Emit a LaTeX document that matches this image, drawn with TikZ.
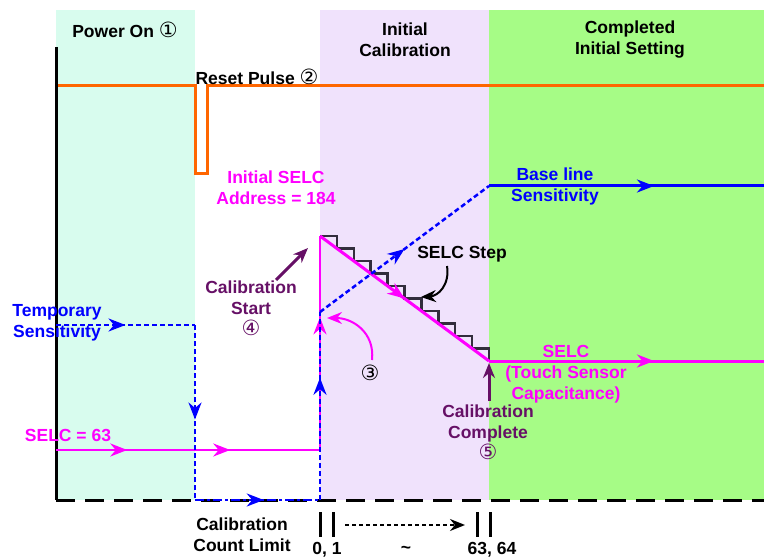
\documentclass[tikz,border=0pt]{standalone}
\usepackage{fontspec}
\setmainfont{Liberation Sans}
\newfontfamily\circfont{DejaVu Sans}
\usetikzlibrary{arrows.meta,decorations.markings}

\definecolor{poweron}{RGB}{216,252,238}
\definecolor{calib}{RGB}{240,226,252}
\definecolor{done}{RGB}{166,252,134}
\definecolor{pulse}{RGB}{255,102,0}
\definecolor{selc}{RGB}{255,0,255}
\definecolor{sens}{RGB}{0,0,255}
\definecolor{evt}{RGB}{102,16,102}
\definecolor{stair}{RGB}{50,45,60}

\newcommand{\cnum}[1]{{\circfont\mdseries\fontsize{21}{21}\selectfont #1}}

\begin{document}
\begin{tikzpicture}[x=1pt,y=-1pt,
  lbl/.style={font=\bfseries\fontsize{17.5}{21}\selectfont,align=center,inner sep=0pt},
  tip/.style={-{Stealth[length=15pt,width=12pt]}},
  midarr/.style={postaction={decorate,decoration={markings,
      mark=at position #1 with {\arrow{Stealth[length=17pt,width=13pt]}}}}},
  sensdot/.style={sens,line width=2.5pt,dash pattern=on 5pt off 3pt}]
\useasboundingbox (0,0) rectangle (764,559);

% phases
\fill[poweron] (56,10) rectangle (195,500);
\fill[calib] (320,10) rectangle (489,500);
\fill[done] (489,10) rectangle (764,500);

\coordinate (O) at (56,500);
\coordinate (Top) at (56,47);
\coordinate (End) at (764,500);

% reset pulse
\coordinate (R0) at (56,86);
\coordinate (R1) at (195,86);
\coordinate (R2) at (195,174);
\coordinate (R3) at (207,174);
\coordinate (R4) at (207,86);
\coordinate (R5) at (764,86);
\draw[pulse,line width=3pt] (R0) -- (R1) -- (R2) -- (R3) -- (R4) -- (R5);

% axes
\draw[line width=3pt,dash pattern=on 19pt off 10pt] (O) -- (End);
\draw[line width=3pt] (Top) -- (O);

% SELC steps
\coordinate (S0) at (56,450);
\coordinate (S1) at (320,450);
\coordinate (S2) at (320,236);
\coordinate (S3) at (489,361);
\coordinate (S4) at (764,361);
\draw[stair,line width=2.5pt] (S2) \foreach \i in {1,...,10} { -| ({320+16.9*\i},{236+12.5*\i}) };

\draw[selc,line width=2.5pt,midarr=0.27,midarr=0.66] (S0) -- (S1);
\draw[selc,line width=2.5pt,midarr=0.62] (S1) -- (S2);
\draw[selc,line width=3pt,midarr=0.5] (S2) -- (S3);
\draw[selc,line width=3pt,midarr=0.6] (S3) -- (S4);

% sensitivity
\coordinate (T0) at (56,325);
\coordinate (T1) at (195,325);
\coordinate (T2) at (195,500);
\coordinate (T3) at (320,500);
\coordinate (T4) at (320,312);
\coordinate (T5) at (489,186);
\coordinate (T6) at (764,186);
\draw[sensdot,midarr=0.5] (T0) -- (T1);
\draw[sensdot,midarr=0.54] (T1) -- (T2);
\draw[sens,line width=2.5pt,dash pattern=on 9pt off 3pt on 3pt off 3pt,midarr=0.55] (T2) -- (T3);
\draw[sensdot,midarr=0.65] (T3) -- (T4);
\draw[sensdot,midarr=0.5] (T4) -- (T5);
\draw[sens,line width=3pt,midarr=0.6] (T5) -- (T6);

% labels
\node[lbl] (pwr) at (125,30) {Power On \cnum{①}};
\node[lbl] (rst) at (257,77) {Reset Pulse \cnum{②}};
\node[lbl] (cal) at (405,40) {Initial\\Calibration};
\node[lbl] (cmp) at (630,40) {Completed\\Initial Setting};
\node[lbl,selc] (init) at (276,188) {Initial SELC\\Address = 184};
\node[lbl,evt] (start) at (251,308) {Calibration\\Start\\\cnum{④}};
\node[lbl,sens] (base) at (555,186) {Base line\\Sensitivity};
\node[lbl] (steplbl) at (462,254) {SELC Step};
\node[lbl] (c3) at (370,373) {\cnum{③}};
\node[lbl,sens] (tmp) at (57,323) {Temporary\\Sensitivity};
\node[lbl,selc] (s63) at (68,435) {SELC = 63};
\node[lbl,selc] (touch) at (566,374) {SELC\\(Touch Sensor\\Capacitance)};
\node[lbl,evt] (cdone) at (488,432) {Calibration\\Complete\\\cnum{⑤}};
\node[lbl] (lim) at (242,535) {Calibration\\Count Limit};
\node[lbl] (n01) at (327,550) {0, 1};
\node[lbl] (til) at (406,550) {\textasciitilde};
\node[lbl] (n6364) at (492,550) {63, 64};

% event arrows
\coordinate (startA) at (276,280);
\coordinate (startB) at (308,248);
\draw[evt,line width=3pt,tip] (startA) -- (startB);
\coordinate (doneA) at (489,401);
\coordinate (doneB) at (489,363);
\draw[evt,line width=3pt,tip] (doneA) -- (doneB);
\coordinate (stepA) at (447,266);
\coordinate (stepB) at (421,297);
\draw[line width=2pt,tip] (stepA) .. controls (450,285) and (438,296) .. (stepB);
\coordinate (upA) at (372,360);
\coordinate (upB) at (327,318);
\draw[selc,line width=2pt,tip] (upA) .. controls (375,332) and (352,318) .. (upB);

% count limit
\foreach \x in {320,333,477,490}
  \draw[line width=3pt] (\x,512) -- (\x,537);
\coordinate (cntA) at (345,525);
\coordinate (cntB) at (465,525);
\draw[line width=2pt,dash pattern=on 4pt off 3pt,tip] (cntA) -- (cntB);

\end{tikzpicture}
\end{document}
